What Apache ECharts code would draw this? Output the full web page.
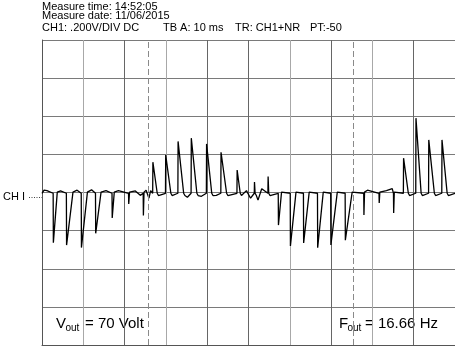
<!DOCTYPE html>
<html>
<head>
<meta charset="utf-8">
<script src="https://cdn.jsdelivr.net/npm/echarts@6/dist/echarts.min.js"></script>
<style>
    html, body { margin: 0; padding: 0; background: #fff; }
    #scope { width: 455px; height: 349px; }
</style>
</head>
<body>
<div id="scope"></div>
<script>
    // baseline of CH1 (V)
    var baseV = -0.004;
    // negative pulses: drop time (ms), lowest value (V), back on baseline (ms)
    var negStart = [2.7, 5.9, 9.5, 12.95, 16.95, 20.95, 24.5, 57.2, 60.1, 63.3, 66.7, 69.9, 73.4, 77.9, 81.6, 85.1];
    var negMin = [-0.263, -0.276, -0.289, -0.214, -0.134, -0.06, -0.12, -0.171, -0.28, -0.265, -0.29, -0.275, -0.25, -0.118, -0.055, -0.108];
    var negEnd = [3.7, 7.5, 11.0, 14.3, 17.5, 21.2, 24.7, 58.0, 61.5, 64.7, 68.1, 71.5, 75.1, 78.1, 81.8, 85.3];
    // positive pulses: rise time (ms), peak (V), back on baseline (ms)
    var posStart = [26.8, 29.9, 32.9, 36.1, 39.8, 43.3, 47.2, 51.4, 54.7, 87.5, 90.5, 93.6, 96.8];
    var posPeak = [0.159, 0.197, 0.268, 0.285, 0.255, 0.211, 0.118, 0.055, 0.084, 0.18, 0.39, 0.276, 0.276];
    var posEnd = [27.9, 31.2, 34.3, 37.5, 41.1, 44.7, 48.0, 51.6, 54.9, 88.7, 91.8, 95.0, 98.1];
    // small wiggles on the baseline
    var noiseT = [0.5, 1.2, 4.5, 8.5, 12.0, 15.5, 18.5, 22.6, 23.8, 25.2, 25.9, 26.3, 28.5, 35.2, 38.6, 42.2, 49.5, 50.5, 52.3, 53.2, 55.6, 78.8, 83.4, 84.8];
    var noiseV = [0.012, 0.01, 0.008, 0.012, 0.014, 0.01, 0.01, 0.008, -0.015, 0.012, -0.03, 0.01, -0.02, -0.025, -0.02, -0.015, 0.01, -0.03, -0.04, 0.02, -0.02, 0.012, 0.01, 0.02];
    // cursor lines (ms)
    var cursors = [25.66, 75.4];
    // grid line shades, one per vertical division line
    var vLineColors = ['#555', '#a8a8a8', '#666', '#a8a8a8', '#666', '#666', '#a8a8a8', '#666', '#a8a8a8', '#666', '#666'];

    function buildTrace() {
        var pts = [[0, baseV], [100, baseV]];
        for (var i = 0; i < negStart.length; i++) {
            pts.push([negStart[i], baseV]);
            pts.push([negStart[i] + 0.05, negMin[i]]);
            pts.push([negEnd[i], baseV + 0.006]);
        }
        for (var j = 0; j < posStart.length; j++) {
            pts.push([posStart[j], baseV]);
            pts.push([posStart[j] + 0.05, posPeak[j]]);
            pts.push([posEnd[j], baseV]);
            pts.push([posEnd[j] + 0.3, baseV - 0.012]);
        }
        for (var k = 0; k < noiseT.length; k++) {
            pts.push([noiseT[k], noiseV[k]]);
        }
        pts.sort(function (a, b) { return a[0] - b[0]; });
        return pts;
    }

    var font = 'Liberation Sans, Arial, sans-serif';
    var chart = echarts.init(document.getElementById('scope'), null, {renderer: 'canvas'});
    var option = {
        animation: false,
        backgroundColor: '#fff',
        grid: { left: 42, top: 40, width: 417, height: 305 },
        xAxis: {
            type: 'value', min: 0, max: 100, interval: 10,
            axisLine: { show: true, onZero: false, lineStyle: { color: '#555', width: 1 } },
            axisTick: { show: false },
            axisLabel: { show: false },
            splitLine: { show: true, lineStyle: { color: vLineColors, width: 1 } }
        },
        yAxis: {
            type: 'value', min: -0.8, max: 0.8, interval: 0.2,
            axisLine: { show: true, onZero: false, lineStyle: { color: '#555', width: 1 } },
            axisTick: { show: false },
            axisLabel: { show: false },
            splitLine: { show: true, lineStyle: { color: '#7a7a7a', width: 1 } }
        },
        series: [{
            type: 'line',
            data: buildTrace(),
            showSymbol: false,
            lineStyle: { color: '#000', width: 1.3 },
            markLine: {
                silent: true,
                symbol: 'none',
                label: { show: false },
                lineStyle: { color: '#8a8a8a', type: [6, 3], width: 1 },
                data: cursors.map(function (c) { return { xAxis: c }; })
            }
        }],
        graphic: [
            { type: 'text', x: 42, y: 7, style: { text: 'Measure time: 14:52:05', font: '11px ' + font, fill: '#000', verticalAlign: 'middle' } },
            { type: 'text', x: 42, y: 16, style: { text: 'Measure date: 11/06/2015', font: '11px ' + font, fill: '#000', verticalAlign: 'middle' } },
            { type: 'text', x: 42, y: 28, style: { text: 'CH1: .200V/DIV DC', font: '11px ' + font, fill: '#000', verticalAlign: 'middle' } },
            { type: 'text', x: 163, y: 28, style: { text: 'TB A: 10 ms', font: '11px ' + font, fill: '#000', verticalAlign: 'middle' } },
            { type: 'text', x: 235, y: 28, style: { text: 'TR: CH1+NR', font: '11px ' + font, fill: '#000', verticalAlign: 'middle' } },
            { type: 'text', x: 310, y: 28, style: { text: 'PT:-50', font: '11px ' + font, fill: '#000', verticalAlign: 'middle' } },
            // channel marker
            { type: 'text', x: 3, y: 197, style: { text: 'CH I', font: '11px ' + font, fill: '#000', verticalAlign: 'middle' } },
            { type: 'line', shape: { x1: 29, y1: 197.5, x2: 42, y2: 197.5 }, style: { stroke: '#444', lineWidth: 1, lineDash: [1, 1.5] } },
            // readouts
            { type: 'text', x: 56, y: 324, style: { text: 'V', font: '15px ' + font, fill: '#000', verticalAlign: 'middle' } },
            { type: 'text', x: 65.5, y: 328, style: { text: 'out', font: '10px ' + font, fill: '#000', verticalAlign: 'middle' } },
            { type: 'text', x: 85, y: 324, style: { text: '= 70 Volt', font: '15px ' + font, fill: '#000', verticalAlign: 'middle' } },
            { type: 'text', x: 339, y: 324, style: { text: 'F', font: '15px ' + font, fill: '#000', verticalAlign: 'middle' } },
            { type: 'text', x: 347.5, y: 328, style: { text: 'out', font: '10px ' + font, fill: '#000', verticalAlign: 'middle' } },
            { type: 'text', x: 365, y: 324, style: { text: '= 16.66 Hz', font: '15px ' + font, fill: '#000', verticalAlign: 'middle' } }
        ]
    };
    chart.setOption(option);
</script>
</body>
</html>
